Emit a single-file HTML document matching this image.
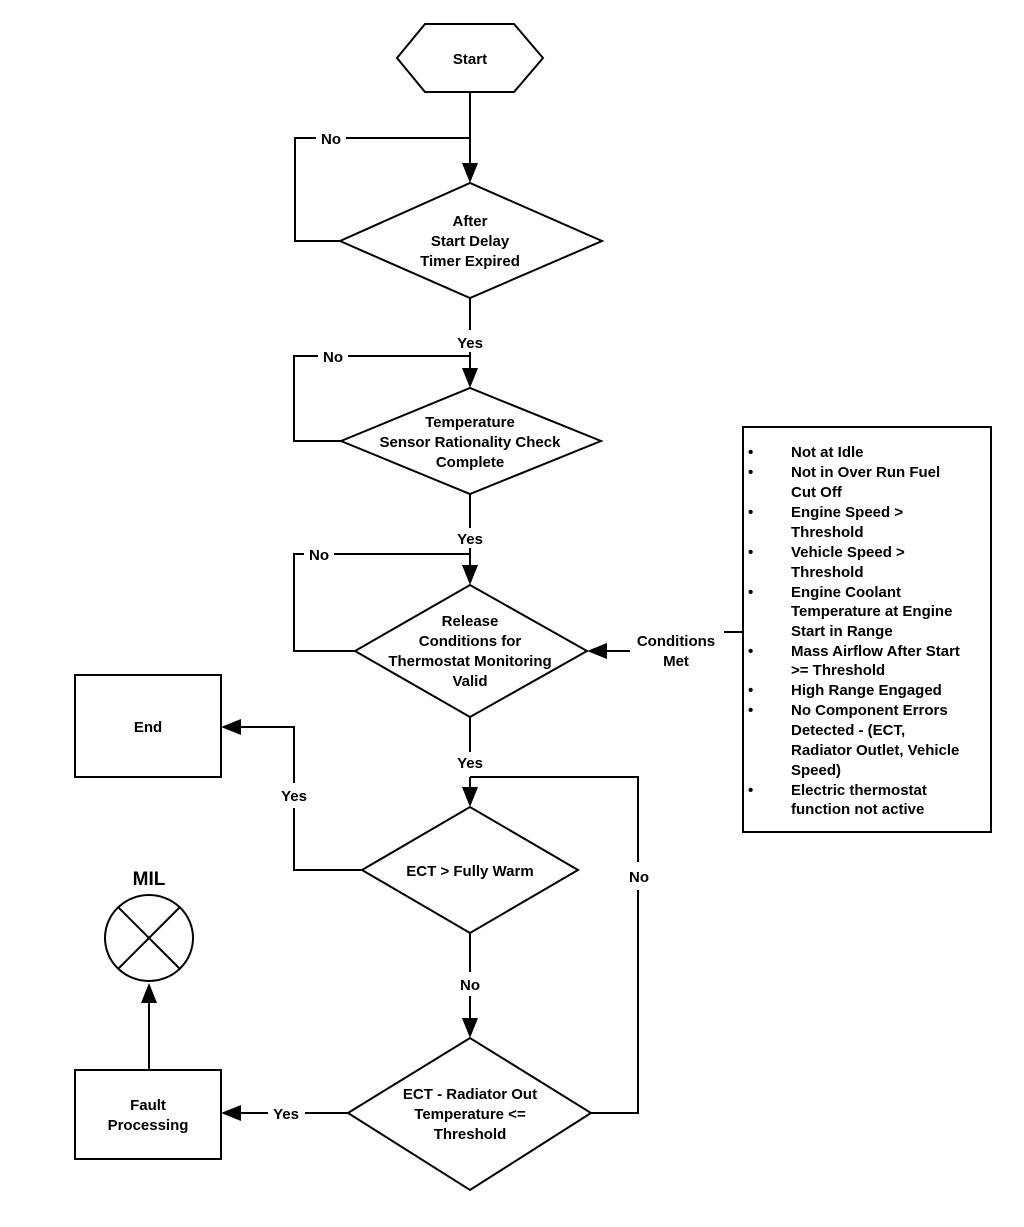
<!DOCTYPE html>
<html><head><style>
html,body{margin:0;padding:0;background:#fff;}
svg text{font-family:"Liberation Sans",Arial,sans-serif;font-weight:bold;font-size:15px;fill:#000;}
</style></head><body>
<svg width="1024" height="1222" viewBox="0 0 1024 1222" xmlns="http://www.w3.org/2000/svg">
<g fill="none" stroke="#000" stroke-width="2">
<polygon points="397,58 425,24 514,24 543,58 514,92 425,92"/>
<polygon points="340,241 470,183 602,241 470,298"/>
<polygon points="341,441 470,388 601,441 470,494"/>
<polygon points="355,651 470,585 587,651 470,717"/>
<polygon points="362,870 470,807 578,870 470,933"/>
<polygon points="348,1113 470,1038 591,1113 470,1190"/>
<rect x="75" y="675" width="146" height="102"/>
<rect x="75" y="1070" width="146" height="89"/>
<rect x="743" y="427" width="248" height="405"/>
<ellipse cx="149" cy="938" rx="44" ry="43"/>
<line x1="118" y1="907" x2="180" y2="969"/>
<line x1="180" y1="907" x2="118" y2="969"/>
<line x1="470" y1="92" x2="470" y2="170"/>
<polyline points="470,138 295,138 295,241 340,241"/>
<line x1="470" y1="298" x2="470" y2="330"/>
<line x1="470" y1="352" x2="470" y2="375"/>
<polyline points="470,356 294,356 294,441 341,441"/>
<line x1="470" y1="494" x2="470" y2="528"/>
<line x1="470" y1="548" x2="470" y2="572"/>
<polyline points="470,554 294,554 294,651 355,651"/>
<polyline points="724,632 743,632"/>
<line x1="630" y1="651" x2="600" y2="651"/>
<line x1="470" y1="717" x2="470" y2="752"/>
<line x1="470" y1="777" x2="470" y2="794"/>
<polyline points="591,1113 638,1113 638,890"/>
<polyline points="638,862 638,777 470,777"/>
<polyline points="362,870 294,870 294,808"/>
<polyline points="294,783 294,727 234,727"/>
<line x1="470" y1="933" x2="470" y2="972"/>
<line x1="470" y1="996" x2="470" y2="1025"/>
<line x1="348" y1="1113" x2="305" y2="1113"/>
<line x1="268" y1="1113" x2="234" y2="1113"/>
<line x1="149" y1="1070" x2="149" y2="996"/>
</g>
<g fill="#fff">
<rect x="316" y="130" width="30" height="16"/>
<rect x="318" y="348" width="30" height="16"/>
<rect x="304" y="546" width="30" height="16"/>
</g>
<g fill="#000">
<polygon points="462,163 478,163 470,183"/>
<polygon points="462,368 478,368 470,388"/>
<polygon points="462,565 478,565 470,585"/>
<polygon points="462,787 478,787 470,807"/>
<polygon points="462,1018 478,1018 470,1038"/>
<polygon points="607,643 607,659 587,651"/>
<polygon points="241,719 241,735 221,727"/>
<polygon points="241,1105 241,1121 221,1113"/>
<polygon points="141,1003 157,1003 149,983"/>
</g>
<g text-anchor="middle">
<text x="470" y="64">Start</text>
<text x="470" y="226">After</text>
<text x="470" y="246">Start Delay</text>
<text x="470" y="266">Timer Expired</text>
<text x="331" y="144">No</text>
<text x="470" y="348">Yes</text>
<text x="333" y="362">No</text>
<text x="470" y="427">Temperature</text>
<text x="470" y="447">Sensor Rationality Check</text>
<text x="470" y="467">Complete</text>
<text x="470" y="544">Yes</text>
<text x="319" y="560">No</text>
<text x="470" y="626">Release</text>
<text x="470" y="646">Conditions for</text>
<text x="470" y="666">Thermostat Monitoring</text>
<text x="470" y="686">Valid</text>
<text x="676" y="646">Conditions</text>
<text x="676" y="666">Met</text>
<text x="470" y="768">Yes</text>
<text x="148" y="732">End</text>
<text x="294" y="801">Yes</text>
<text x="470" y="876">ECT &gt; Fully Warm</text>
<text x="639" y="882">No</text>
<text x="470" y="990">No</text>
<text x="470" y="1099">ECT - Radiator Out</text>
<text x="470" y="1119">Temperature &lt;=</text>
<text x="470" y="1139">Threshold</text>
<text x="286" y="1119">Yes</text>
<text x="148" y="1110">Fault</text>
<text x="148" y="1130">Processing</text>
<text x="149" y="885" style="font-size:19px">MIL</text>
</g>
<g>
<text x="748" y="457">•</text><text x="791" y="457">Not at Idle</text>
<text x="748" y="477">•</text><text x="791" y="477">Not in Over Run Fuel</text>
<text x="791" y="497">Cut Off</text>
<text x="748" y="517">•</text><text x="791" y="517">Engine Speed &gt;</text>
<text x="791" y="537">Threshold</text>
<text x="748" y="557">•</text><text x="791" y="557">Vehicle Speed &gt;</text>
<text x="791" y="577">Threshold</text>
<text x="748" y="597">•</text><text x="791" y="597">Engine Coolant</text>
<text x="791" y="616">Temperature at Engine</text>
<text x="791" y="636">Start in Range</text>
<text x="748" y="656">•</text><text x="791" y="656">Mass Airflow After Start</text>
<text x="791" y="675">&gt;= Threshold</text>
<text x="748" y="695">•</text><text x="791" y="695">High Range Engaged</text>
<text x="748" y="715">•</text><text x="791" y="715">No Component Errors</text>
<text x="791" y="735">Detected - (ECT,</text>
<text x="791" y="755">Radiator Outlet, Vehicle</text>
<text x="791" y="775">Speed)</text>
<text x="748" y="795">•</text><text x="791" y="795">Electric thermostat</text>
<text x="791" y="814">function not active</text>
</g>
</svg>
</body></html>
